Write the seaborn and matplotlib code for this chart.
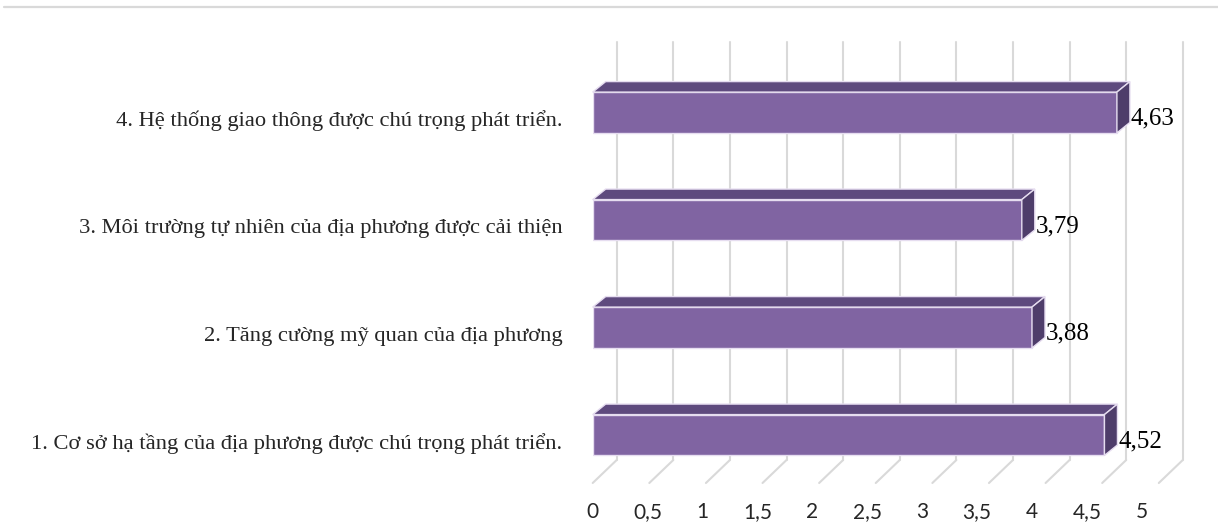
import matplotlib
matplotlib.use("Agg")
import matplotlib.pyplot as plt
import matplotlib.transforms as mtransforms
from matplotlib.patches import Polygon
from matplotlib.lines import Line2D
import pandas as pd
import seaborn as sns

# dữ liệu
categories = [
    "4. Hệ thống giao thông được chú trọng phát triển.",
    "3. Môi trường tự nhiên của địa phương được cải thiện",
    "2. Tăng cường mỹ quan của địa phương",
    "1. Cơ sở hạ tầng của địa phương được chú trọng phát triển.",
]
values = [4.63, 3.79, 3.88, 4.52]
ticks = [0, 0.5, 1, 1.5, 2, 2.5, 3, 3.5, 4, 4.5, 5]
tick_labels = ["0", "0,5", "1", "1,5", "2", "2,5", "3", "3,5", "4", "4,5", "5"]

FRONT = "#8064A2"
TOP = "#5E4A7E"
SIDE = "#4E3D6A"
EDGE = "#E6DDF0"
GRID = "#D9D9D9"

sns.set_style("white")

df = pd.DataFrame({"cat": categories, "val": values})

W, H, DPI = 12.18, 5.25, 100
fig = plt.figure(figsize=(W, H), dpi=DPI)
# mặt trước: x=0 tại 592.7px, x=5 tại 1158.8px; đáy 483px
ax = fig.add_axes([592.7 / 1218, 42 / 525, (1158.8 - 592.7) / 1218, (483 - 65) / 525])

sns.barplot(data=df, x="val", y="cat", orient="h", color=FRONT, width=0.38,
            saturation=1, ax=ax, zorder=3, edgecolor=EDGE, linewidth=1.0)

ax.set_xlim(0, 5)
ax.set_ylim(3.4465, -0.4419)
for s in ax.spines.values():
    s.set_visible(False)
ax.set_xlabel("")
ax.set_ylabel("")

# chuyển đổi pixel -> đơn vị dữ liệu
px_x = ((1158.8 - 592.7)) / 5.0
px_y = (483 - 65) / (3.4465 + 0.4419)
WALL_DX, WALL_DY = 24 / px_x, -23 / px_y
BAR_DX, BAR_DY = 13 / px_x, -10.5 / px_y

y_floor, y_top = 3.4465, -0.4419
# lưới tường sau và sàn
for t in ticks:
    ax.plot([t + WALL_DX, t + WALL_DX], [y_floor + WALL_DY, y_top + WALL_DY],
            color=GRID, lw=1.5, zorder=1, clip_on=False)
    ax.plot([t, t + WALL_DX], [y_floor, y_floor + WALL_DY],
            color=GRID, lw=1.5, zorder=1, clip_on=False)

# mặt trên và mặt bên của thanh
for p, v in zip(ax.patches, values):
    x0, y0 = p.get_x(), p.get_y()
    w, h = p.get_width(), p.get_height()
    x1 = x0 + w
    ytop, ybot = min(y0, y0 + h), max(y0, y0 + h)
    top = Polygon([(x0, ytop), (x1, ytop), (x1 + BAR_DX, ytop + BAR_DY), (x0 + BAR_DX, ytop + BAR_DY)],
                  closed=True, facecolor=TOP, edgecolor=EDGE, lw=1.0, zorder=4, clip_on=False)
    side = Polygon([(x1, ytop), (x1 + BAR_DX, ytop + BAR_DY), (x1 + BAR_DX, ybot + BAR_DY), (x1, ybot)],
                   closed=True, facecolor=SIDE, edgecolor=EDGE, lw=1.0, zorder=4, clip_on=False)
    ax.add_patch(top)
    ax.add_patch(side)
    ax.annotate(f"{v:.2f}".replace(".", ","), xy=(x1, (ytop + ybot) / 2),
                xytext=(14, -6), textcoords="offset pixels", ha="left", va="center",
                fontsize=18, family="Liberation Serif", color="black", zorder=5,
                annotation_clip=False)

ax.set_xticks(ticks)
ax.set_xticklabels(tick_labels, family="Lato", fontsize=15)
ax.tick_params(axis="x", length=0, pad=14)
ax.tick_params(axis="y", length=0, pad=22)
for lab in ax.get_yticklabels():
    lab.set_family("Liberation Serif")
    lab.set_fontsize(16.2)
    lab.set_transform(lab.get_transform() + mtransforms.ScaledTranslation(0, -6 / DPI, fig.dpi_scale_trans))
for i, lab in enumerate(ax.get_xticklabels()):
    lab.set_transform(lab.get_transform() + mtransforms.ScaledTranslation(-1.7 * i / DPI, 0, fig.dpi_scale_trans))

# đường kẻ trên cùng
fig.add_artist(Line2D([4 / 1218, 1], [1 - 7 / 525] * 2, color=GRID, lw=1.6, transform=fig.transFigure))

fig.savefig("out.png", dpi=DPI)
